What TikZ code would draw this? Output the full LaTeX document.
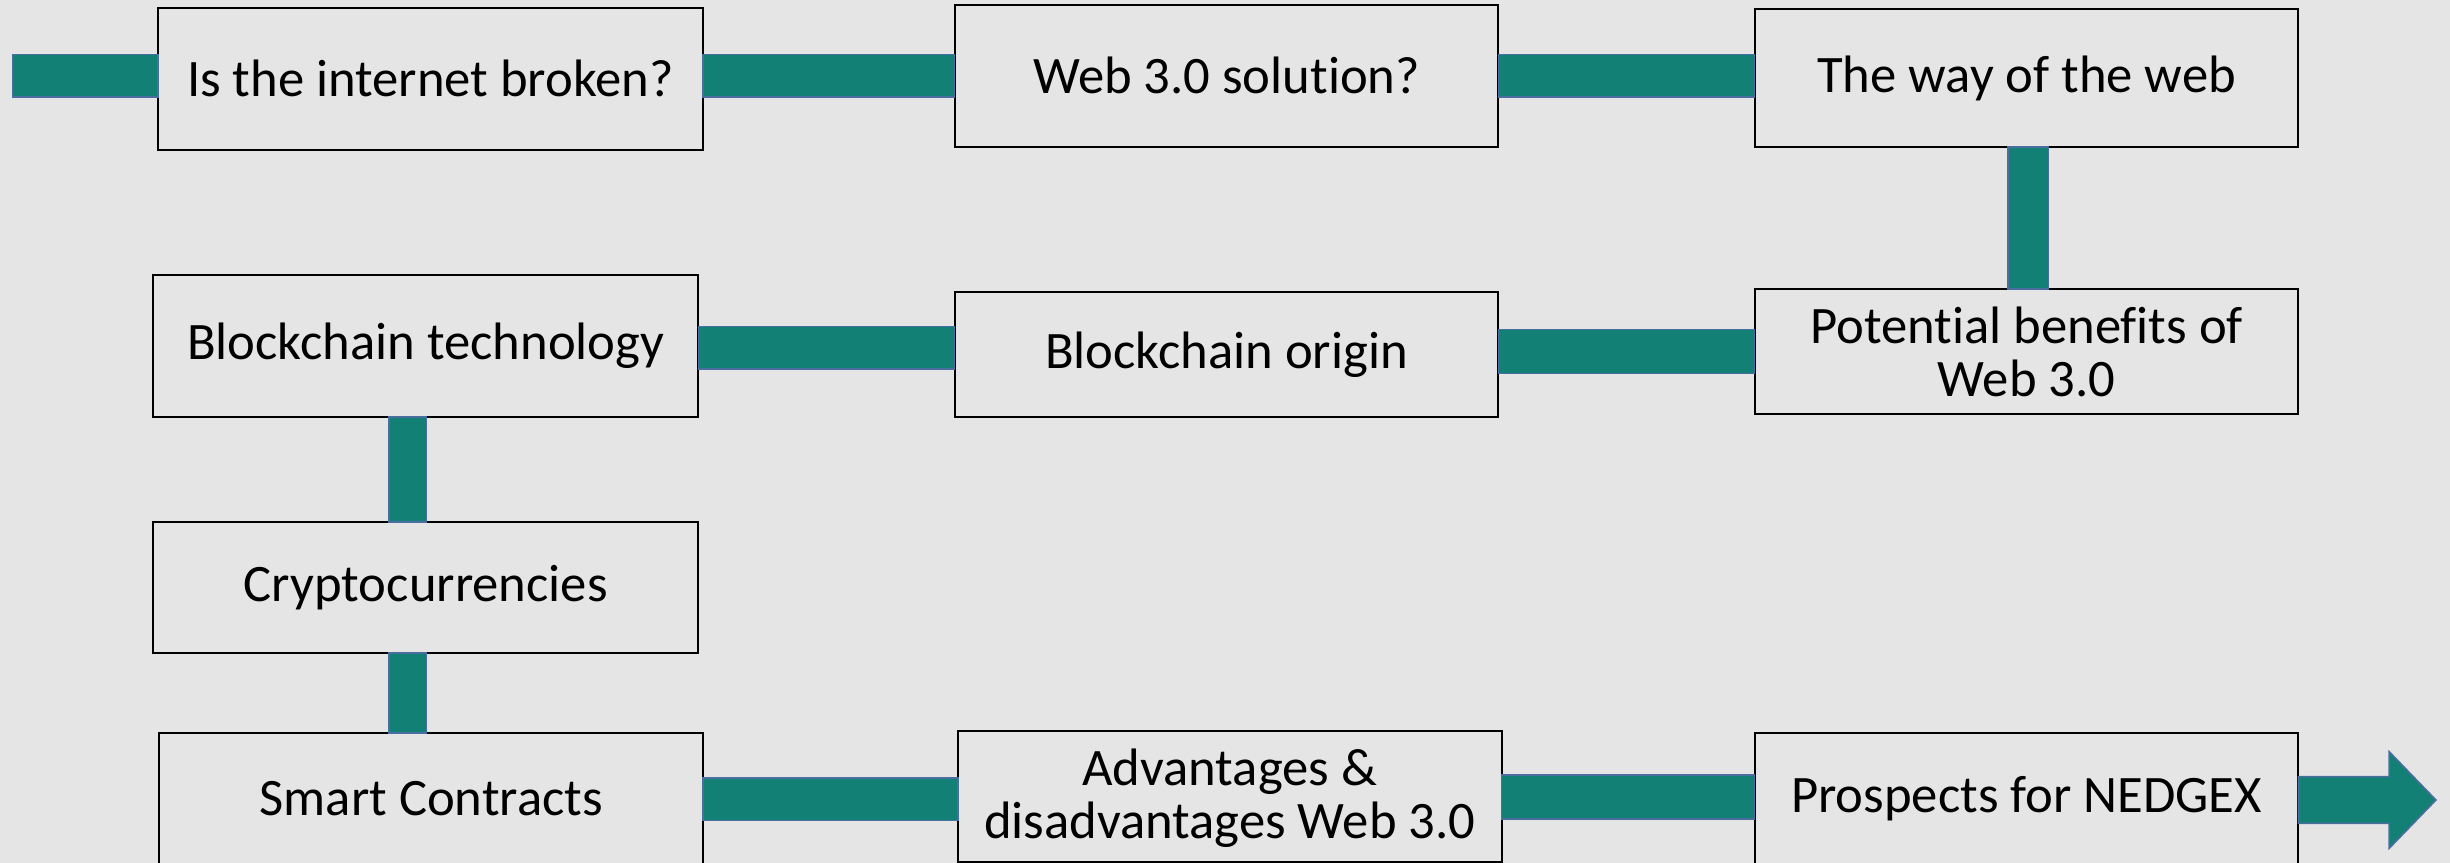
\documentclass[tikz,border=0pt]{standalone}
\usepackage{fontspec}
\setmainfont[Ligatures=NoCommon]{Carlito}
\usetikzlibrary{calc}
\definecolor{bgcol}{RGB}{229,229,229}
\definecolor{barfill}{RGB}{19,128,117}
\definecolor{barline}{RGB}{74,110,160}

\begin{document}
\begin{tikzpicture}[x=1pt,y=-1pt,
  topic/.style={draw=black, line width=1.3pt, inner sep=0pt, outer sep=0pt,
    align=center, font=\fontsize{33.7}{34}\selectfont},
  bar/.style={fill=barfill, draw=barline, line width=1pt}]
\fill[bgcol] (0,0) rectangle (1568,552);
\useasboundingbox (0,0) rectangle (1568,552);
\clip (0,0) rectangle (1568,552);

% row 1
\node[topic, minimum width=349pt, minimum height=91pt] (b1) at (275.5,50.5) {Is the internet broken?};
\node[topic, minimum width=348pt, minimum height=91pt] (b2) at (785,48.5) {Web 3.0 solution?};
\node[topic, minimum width=348pt, minimum height=88pt] (b3) at (1297,50) {The way of the web};
% row 2
\node[topic, minimum width=349pt, minimum height=91pt] (b4) at (272.5,221.5) {Blockchain technology};
\node[topic, minimum width=348pt, minimum height=80pt] (b5) at (785,227) {Blockchain origin};
\node[topic, minimum width=348pt, minimum height=80pt] (b6) at (1297,225) {Potential benefits of\\Web 3.0};
% column 1
\node[topic, minimum width=349pt, minimum height=84pt] (b7) at (272.5,376) {Cryptocurrencies};
% row 3
\node[topic, minimum width=348pt, minimum height=84pt] (b8) at (276,511) {Smart Contracts};
\node[topic, minimum width=348pt, minimum height=84pt, text depth=4pt] (b9) at (787,510) {Advantages \&\\disadvantages Web 3.0};
\node[topic, minimum width=348pt, minimum height=84pt] (b10) at (1297,511) {Prospects for NEDGEX};

% free ends of the flow
\coordinate (start) at (8,35);
\coordinate (headbase) at (1529,512);
\coordinate (tip) at (1559,512);

% horizontal links
\draw[bar] (start) rectangle (b1.west |- 0,62);
\draw[bar] (b1.east |- 0,35) rectangle (b2.west |- 0,62);
\draw[bar] (b2.east |- 0,35) rectangle (b3.west |- 0,62);
\draw[bar] (b4.east |- 0,209) rectangle (b5.west |- 0,236);
\draw[bar] (b5.east |- 0,211) rectangle (b6.west |- 0,239);
\draw[bar] (b8.east |- 0,498) rectangle (b9.west |- 0,525);
\draw[bar] (b9.east |- 0,496) rectangle (b10.west |- 0,524);

% vertical links
\draw[bar] (1285,0 |- b3.south) rectangle (1311,0 |- b6.north);
\draw[bar] (249,0 |- b4.south) rectangle (273,0 |- b7.north);
\draw[bar] (249,0 |- b7.south) rectangle (273,0 |- b8.north);

% final arrow
\draw[bar] (b10.east |- 0,497) -- (headbase |- 0,497) -- (headbase |- 0,481)
  -- (tip) -- (headbase |- 0,543) -- (headbase |- 0,527) -- (b10.east |- 0,527) -- cycle;
\end{tikzpicture}
\end{document}
